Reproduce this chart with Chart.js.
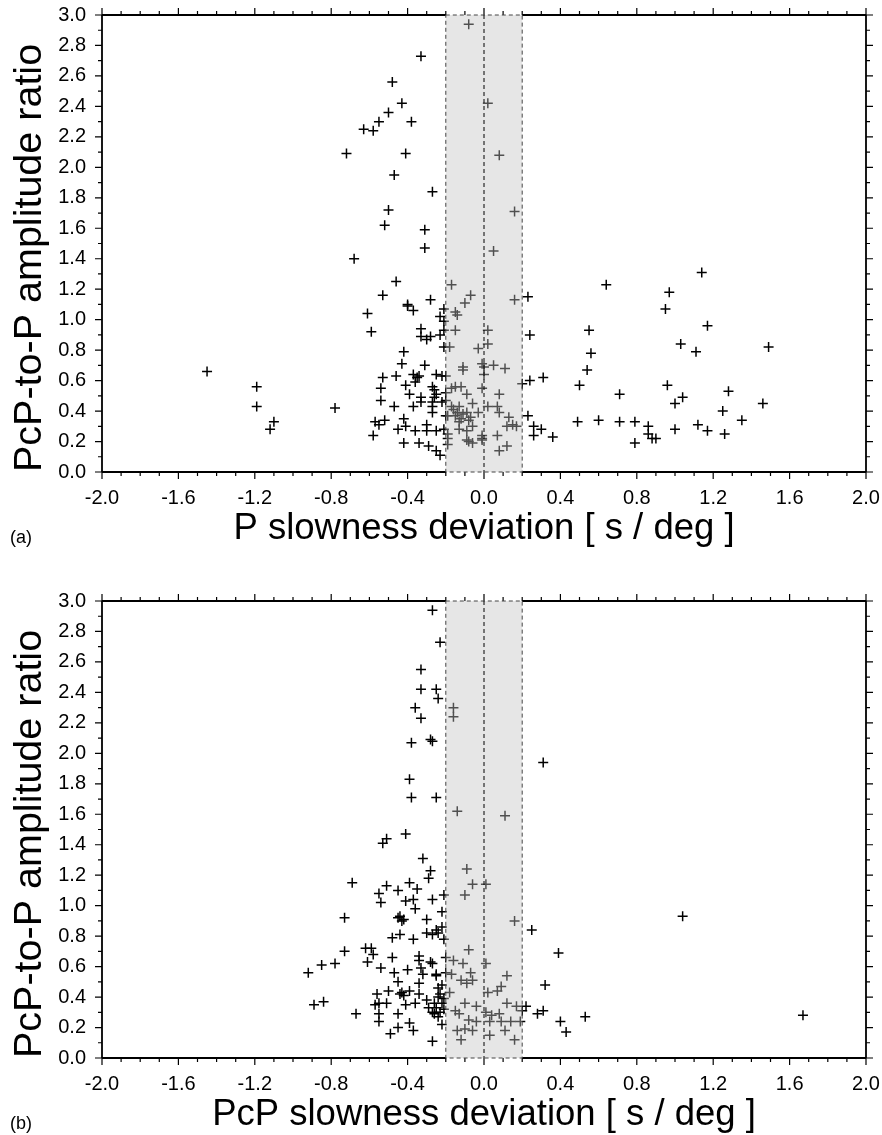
<!DOCTYPE html>
<html lang="en">
<head>
  <meta charset="UTF-8">
  <title>PcP-to-P amplitude ratio vs slowness deviation</title>
  <script src="https://cdn.jsdelivr.net/npm/chart.js"></script>
  <style>
    body { margin: 0; background: #fff; }
    .panel { position: absolute; left: 0; width: 882px; height: 549px; }
  </style>
</head>
<body>
  <div class="panel" style="top:0"><canvas id="chartA" width="882" height="549"></canvas></div>
  <div class="panel" style="top:586px"><canvas id="chartB" width="882" height="549"></canvas></div>

  <script>
    // Panel (a): P slowness deviation vs PcP/P amplitude ratio
    const pSlowness = [
      -0.68, -0.53, -0.61, -0.59, -1.45, -1.19, -1.19, -1.10, -1.12, -0.78,
      -0.53, -0.54, -0.54, -0.57, -0.55, -0.58, -0.52, -0.08, -0.33, -0.48,
      -0.43, -0.50, -0.38, -0.55, -0.63, -0.58, -0.72, 0.02, -0.41, 0.08,
      -0.47, -0.27, 0.16, -0.50, -0.52, -0.31, -0.31, 0.05, -0.46, -0.17,
      -0.07, -0.10, -0.28, -0.40, -0.40, -0.37, -0.21, -0.15, -0.14, -0.23,
      -0.21, 0.23, 0.16, -0.33, -0.33, -0.30, -0.28, -0.23, -0.21, -0.15,
      0.02, 0.24, -0.21, -0.18, -0.03, 0.02, -0.42, -0.43, -0.31, -0.11,
      -0.11, -0.01, 0.00, 0.05, 0.11, 0.00, -0.46, -0.37, -0.35, -0.34,
      -0.25, -0.22, -0.20, 0.24, 0.31, 0.20, -0.41, -0.36, -0.27, -0.26,
      -0.17, -0.15, -0.12, -0.01, -0.39, -0.25, -0.20, -0.09, 0.08, -0.33,
      -0.26, -0.33, -0.27, -0.22, -0.20, -0.47, -0.37, -0.27, -0.17, -0.16,
      -0.13, -0.06, 0.02, 0.07, -0.27, -0.20, -0.19, -0.15, -0.14, -0.11,
      -0.09, -0.07, -0.03, 0.08, 0.13, 0.23, -0.42, -0.12, -0.13, -0.08,
      -0.06, -0.45, -0.41, -0.36, -0.30, -0.30, -0.25, -0.21, -0.19, -0.13,
      -0.09, -0.01, -0.01, 0.07, 0.12, 0.15, 0.17, 0.26, 0.30, 0.26,
      0.36, -0.42, -0.34, -0.29, -0.25, -0.23, -0.19, -0.19, -0.09, -0.08,
      -0.06, -0.01, 0.08, 0.12, 1.14, 0.64, 0.97, 0.95, 1.17, 0.55,
      0.56, 1.03, 1.11, 1.49, 0.54, 0.50, 0.96, 0.71, 1.04, 1.00,
      1.28, 1.46, 1.25, 0.49, 0.60, 0.71, 0.79, 0.86, 0.86, 0.88,
      0.90, 0.79, 1.00, 1.12, 1.17, 1.26, 1.35
    ];
    const pRatio = [
      1.40, 1.16, 1.04, 0.92, 0.66, 0.56, 0.43, 0.33, 0.28, 0.42,
      0.62, 0.55, 0.47, 0.33, 0.31, 0.24, 0.34, 2.94, 2.73, 2.56,
      2.42, 2.36, 2.30, 2.30, 2.25, 2.24, 2.09, 2.42, 2.09, 2.08,
      1.95, 1.84, 1.71, 1.72, 1.62, 1.59, 1.47, 1.45, 1.25, 1.23,
      1.16, 1.11, 1.13, 1.10, 1.09, 1.06, 1.07, 1.05, 1.03, 1.02,
      0.99, 1.15, 1.13, 0.94, 0.89, 0.87, 0.89, 0.90, 0.93, 0.93,
      0.93, 0.90, 0.82, 0.82, 0.81, 0.84, 0.79, 0.71, 0.70, 0.69,
      0.67, 0.71, 0.69, 0.70, 0.68, 0.64, 0.63, 0.64, 0.62, 0.63,
      0.64, 0.63, 0.63, 0.60, 0.62, 0.58, 0.57, 0.59, 0.56, 0.54,
      0.55, 0.56, 0.56, 0.55, 0.51, 0.51, 0.52, 0.51, 0.51, 0.49,
      0.49, 0.46, 0.46, 0.46, 0.47, 0.43, 0.43, 0.43, 0.43, 0.41,
      0.43, 0.45, 0.43, 0.43, 0.39, 0.37, 0.37, 0.37, 0.39, 0.38,
      0.39, 0.36, 0.39, 0.39, 0.36, 0.37, 0.35, 0.35, 0.33, 0.34,
      0.30, 0.28, 0.30, 0.27, 0.31, 0.27, 0.27, 0.28, 0.25, 0.28,
      0.27, 0.24, 0.22, 0.24, 0.30, 0.31, 0.30, 0.30, 0.28, 0.24,
      0.23, 0.19, 0.19, 0.17, 0.14, 0.11, 0.18, 0.22, 0.21, 0.20,
      0.19, 0.21, 0.14, 0.17, 1.31, 1.23, 1.18, 1.07, 0.96, 0.93,
      0.78, 0.84, 0.79, 0.82, 0.67, 0.57, 0.57, 0.51, 0.49, 0.45,
      0.53, 0.45, 0.40, 0.33, 0.34, 0.33, 0.33, 0.30, 0.25, 0.22,
      0.22, 0.19, 0.28, 0.31, 0.27, 0.25, 0.34
    ];

    // Panel (b): PcP slowness deviation vs PcP/P amplitude ratio
    const pcpSlowness = [
      -0.27, -0.23, -0.33, -0.33, -0.25, -0.24, -0.36, -0.33, -0.16, -0.16,
      -0.38, -0.28, -0.27, 0.31, -0.39, -0.38, -0.25, -0.14, 0.11, -0.51,
      -0.41, -0.53, -0.32, -0.28, -0.29, -0.69, -0.51, -0.39, -0.55, -0.45,
      -0.35, -0.54, -0.41, -0.37, -0.36, -0.27, -0.73, -0.44, -0.42, -0.43,
      -0.45, -0.30, -0.30, -0.27, -0.44, -0.48, -0.37, -0.25, -0.73, -0.62,
      -0.59, -0.58, -0.61, -0.78, -0.85, -0.92, -0.54, -0.48, -0.47, -0.40,
      -0.45, -0.34, -0.34, -0.33, -0.28, -0.34, -0.25, -0.32, -0.89, -0.84,
      -0.67, -0.56, -0.57, -0.55, -0.51, -0.50, -0.55, -0.55, -0.45, -0.44,
      -0.43, -0.42, -0.39, -0.41, -0.36, -0.34, -0.30, -0.29, -0.27, -0.26,
      -0.45, -0.49, -0.39, -0.37, -0.27, -0.25, -0.24, -0.09, -0.06, 0.01,
      -0.10, -0.21, -0.22, 0.16, 0.25, 0.39, -0.22, -0.24, -0.21, -0.08,
      -0.20, -0.16, -0.11, 0.01, -0.27, 0.12, 0.32, -0.20, -0.17, -0.07,
      -0.12, -0.09, -0.06, 0.09, 0.07, 0.02, -0.18, -0.23, -0.22, -0.10,
      -0.04, 0.12, 0.17, 0.22, 0.20, 0.01, -0.15, -0.13, 0.04, 0.08,
      0.28, 0.31, -0.08, -0.04, 0.03, 0.09, 0.14, 0.19, 0.40, 0.43,
      -0.22, -0.14, -0.10, -0.06, 0.11, 0.03, -0.12, 0.16, 1.04, 0.53,
      1.67, -0.24, -0.25, -0.23, -0.24, -0.21, -0.26, -0.22, -0.21
    ];
    const pcpRatio = [
      2.94, 2.73, 2.55, 2.42, 2.42, 2.36, 2.30, 2.23, 2.30, 2.24,
      2.07, 2.09, 2.08, 1.94, 1.83, 1.71, 1.71, 1.62, 1.59, 1.44,
      1.47, 1.41, 1.31, 1.23, 1.18, 1.15, 1.13, 1.15, 1.08, 1.10,
      1.11, 1.02, 1.03, 1.04, 0.98, 1.04, 0.92, 0.93, 0.91, 0.90,
      0.92, 0.91, 0.82, 0.81, 0.81, 0.79, 0.78, 0.84, 0.70, 0.72,
      0.72, 0.68, 0.63, 0.62, 0.61, 0.56, 0.59, 0.66, 0.56, 0.58,
      0.50, 0.67, 0.64, 0.59, 0.63, 0.49, 0.55, 0.55, 0.35, 0.37,
      0.29, 0.42, 0.35, 0.36, 0.36, 0.44, 0.29, 0.24, 0.29, 0.42,
      0.43, 0.41, 0.44, 0.35, 0.36, 0.42, 0.38, 0.33, 0.30, 0.29,
      0.20, 0.16, 0.23, 0.18, 0.11, 0.54, 0.46, 1.24, 1.14, 1.14,
      1.07, 1.07, 0.96, 0.90, 0.84, 0.69, 0.86, 0.82, 0.78, 0.71,
      0.66, 0.64, 0.62, 0.62, 0.62, 0.54, 0.48, 0.56, 0.55, 0.56,
      0.51, 0.49, 0.51, 0.47, 0.44, 0.43, 0.43, 0.42, 0.36, 0.36,
      0.34, 0.36, 0.34, 0.34, 0.31, 0.30, 0.31, 0.29, 0.28, 0.29,
      0.29, 0.31, 0.25, 0.24, 0.24, 0.24, 0.24, 0.24, 0.24, 0.17,
      0.22, 0.18, 0.19, 0.18, 0.18, 0.15, 0.12, 0.12, 0.93, 0.27,
      0.28, 0.40, 0.33, 0.30, 0.27, 0.32, 0.36, 0.48, 0.39
    ];

    // grey window around zero deviation
    const windowMin = -0.2;
    const windowMax = 0.2;

    const fontFamily = '"Liberation Sans", Arial, Helvetica, sans-serif';
    Chart.defaults.font.family = fontFamily;
    Chart.defaults.color = '#000';

    const toPoints = (xs, ys) => xs.map((x, i) => ({ x, y: ys[i] }));

    // frame, minor/major ticks on all four sides, shaded window, panel letter
    const framePlugin = {
      id: 'frame',
      afterDatasetsDraw(chart, args, opts) {
        const { ctx, chartArea: { left, right, top, bottom }, scales: { x, y } } = chart;
        const x0 = x.getPixelForValue(windowMin);
        const x1 = x.getPixelForValue(windowMax);
        const xz = x.getPixelForValue(0);
        ctx.save();

        // translucent shade drawn over the points, so they look grey inside
        ctx.fillStyle = 'rgba(195,195,195,0.41)';
        ctx.fillRect(x0, top, x1 - x0, bottom - top);

        ctx.strokeStyle = '#000';
        ctx.lineWidth = 1.8;
        ctx.beginPath();
        ctx.moveTo(left, top); ctx.lineTo(left, bottom);
        ctx.moveTo(right, top); ctx.lineTo(right, bottom);
        ctx.moveTo(left, top); ctx.lineTo(x0, top);
        ctx.moveTo(x1, top); ctx.lineTo(right, top);
        ctx.moveTo(left, bottom); ctx.lineTo(x0, bottom);
        ctx.moveTo(x1, bottom); ctx.lineTo(right, bottom);
        ctx.stroke();

        ctx.lineWidth = 1.2;
        ctx.beginPath();
        for (let i = -20; i <= 20; i++) {
          const px = x.getPixelForValue(i / 10);
          const len = i % 4 === 0 ? 7 : 4;
          ctx.moveTo(px, bottom); ctx.lineTo(px, bottom + len);
          ctx.moveTo(px, top); ctx.lineTo(px, top - len);
        }
        for (let i = 0; i <= 30; i++) {
          const py = y.getPixelForValue(i / 10);
          const len = i % 2 === 0 ? 7 : 4;
          ctx.moveTo(left, py); ctx.lineTo(left - len, py);
          ctx.moveTo(right, py); ctx.lineTo(right + len, py);
        }
        ctx.stroke();

        ctx.setLineDash([4, 3]);
        ctx.lineWidth = 1;
        ctx.strokeStyle = '#444';
        ctx.strokeRect(x0, top, x1 - x0, bottom - top);
        ctx.strokeStyle = '#000';
        ctx.beginPath();
        ctx.moveTo(xz, top); ctx.lineTo(xz, bottom);
        ctx.stroke();
        ctx.setLineDash([]);

        ctx.fillStyle = '#000';
        ctx.font = '18px ' + fontFamily;
        ctx.textAlign = 'left';
        ctx.textBaseline = 'alphabetic';
        ctx.fillText(opts.letter, 10, 543);
        ctx.restore();
      }
    };

    function makeChart(id, xs, ys, xTitle, letter) {
      return new Chart(document.getElementById(id), {
        type: 'scatter',
        data: {
          datasets: [{
            data: toPoints(xs, ys),
            pointStyle: 'cross',
            pointRadius: 5,
            pointHoverRadius: 5,
            borderColor: '#000',
            backgroundColor: '#000',
            borderWidth: 1.5
          }]
        },
        options: {
          responsive: false,
          animation: false,
          layout: { padding: { top: 15, right: 16, left: 0, bottom: 0 } },
          scales: {
            x: {
              type: 'linear',
              min: -2,
              max: 2,
              grid: { display: false, drawTicks: false },
              border: { display: false },
              ticks: {
                stepSize: 0.4,
                autoSkip: false,
                maxRotation: 0,
                padding: 14,
                font: { size: 20 },
                callback: v => (Math.abs(v) < 1e-9 ? 0 : v).toFixed(1)
              },
              title: {
                display: true,
                text: xTitle,
                font: { size: 36.5, lineHeight: 1 },
                padding: { top: 0, bottom: 2 }
              },
              afterFit: s => {
                s.height = 77;
                s.paddingLeft = 0;
                s.paddingRight = 0;
              }
            },
            y: {
              type: 'linear',
              min: 0,
              max: 3,
              grid: { display: false, drawTicks: false },
              border: { display: false },
              ticks: {
                stepSize: 0.2,
                autoSkip: false,
                padding: 16,
                font: { size: 20 },
                callback: v => v.toFixed(1)
              },
              title: {
                display: true,
                text: 'PcP-to-P amplitude ratio',
                align: 'start',
                font: { size: 39.5, lineHeight: 1 },
                padding: { top: 10, bottom: 0 }
              },
              afterFit: s => {
                s.width = 102;
                s.paddingTop = 0;
                s.paddingBottom = 0;
              }
            }
          },
          plugins: {
            legend: { display: false },
            tooltip: { enabled: false },
            frame: { letter }
          }
        },
        plugins: [framePlugin]
      });
    }

    makeChart('chartA', pSlowness, pRatio, 'P slowness deviation [ s / deg ]', '(a)');
    makeChart('chartB', pcpSlowness, pcpRatio, 'PcP slowness deviation [ s / deg ]', '(b)');
  </script>
</body>
</html>
